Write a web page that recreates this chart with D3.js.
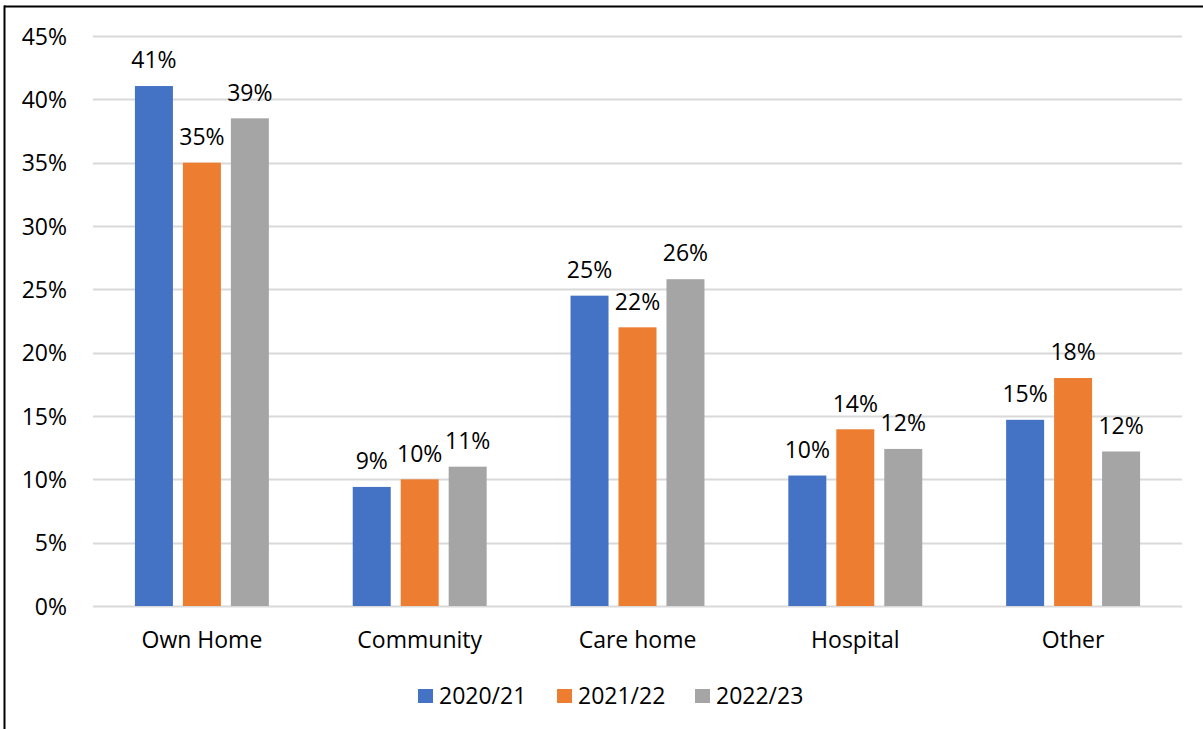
<!DOCTYPE html>
<html>
<head>
<meta charset="utf-8">
<script src="https://cdn.jsdelivr.net/npm/d3@7/dist/d3.min.js"></script>
<style>
  html, body { margin: 0; padding: 0; background: #fff; }
  svg { display: block; }
  text { font-family: "Open Sans", "Noto Sans", sans-serif; fill: #000; }
</style>
</head>
<body>
<svg id="chart" width="1203" height="729"></svg>
<script>
// Place of death, share of deaths by year
const categories = ["Own Home", "Community", "Care home", "Hospital", "Other"];
const seriesNames = ["2020/21", "2021/22", "2022/23"];
const values2020 = [41.05, 9.4, 24.5, 10.3, 14.7];
const values2021 = [35.0, 10.0, 22.0, 13.95, 18.0];
const values2022 = [38.5, 11.0, 25.8, 12.4, 12.2];
const colors = ["#4472C4", "#ED7D31", "#A5A5A5"];
const yTicks = [0, 5, 10, 15, 20, 25, 30, 35, 40, 45];

const seriesValues = [values2020, values2021, values2022];

const svg = d3.select("#chart");
const W = 1203, H = 729;
const plot = { left: 93, right: 1182, top: 36, bottom: 606 };
const FS = 23;

// chart frame (top and left edges visible)
svg.append("line").attr("x1", 4).attr("x2", W).attr("y1", 6.5).attr("y2", 6.5)
  .attr("stroke", "#000").attr("stroke-width", 2);
svg.append("line").attr("x1", 4.5).attr("x2", 4.5).attr("y1", 5.5).attr("y2", H)
  .attr("stroke", "#000").attr("stroke-width", 2);

const y = d3.scaleLinear().domain([0, 45]).range([plot.bottom, plot.top]);
const x0 = d3.scaleBand().domain(categories).range([plot.left, plot.right])
  .paddingInner(0.385).paddingOuter(0.1925);
const x1 = d3.scaleBand().domain(seriesNames).range([0, x0.bandwidth()])
  .paddingInner(0.208).paddingOuter(0);

// gridlines
svg.append("g").selectAll("line").data(yTicks).join("line")
  .attr("x1", plot.left).attr("x2", plot.right)
  .attr("y1", d => Math.round(y(d)) + 0.5).attr("y2", d => Math.round(y(d)) + 0.5)
  .attr("stroke", "#D9D9D9").attr("stroke-width", 2);

// y axis labels
const yAxis = d3.axisLeft(y).tickValues(yTicks).tickFormat(d => d + "%").tickSize(0).tickPadding(0);
const yg = svg.append("g").attr("transform", `translate(67,0)`).call(yAxis);
yg.select(".domain").remove();
yg.selectAll("text").attr("font-size", FS).attr("font-family", "'Open Sans', sans-serif")
  .attr("fill", "#000").attr("dy", "0.36em");

// x axis labels
const xAxis = d3.axisBottom(x0).tickSize(0).tickPadding(0);
const xg = svg.append("g").attr("transform", `translate(0,${plot.bottom + 34})`).call(xAxis);
xg.select(".domain").remove();
xg.selectAll("text").attr("font-size", FS).attr("font-family", "'Open Sans', sans-serif")
  .attr("fill", "#000").attr("dy", "0.36em");

// bars and value labels
const fmt = v => d3.format(".0f")(v) + "%";
seriesNames.forEach((s, si) => {
  const g = svg.append("g");
  const data = categories.map((c, ci) => ({ c, v: seriesValues[si][ci] }));
  g.selectAll("rect").data(data).join("rect")
    .attr("x", d => x0(d.c) + x1(s))
    .attr("y", d => y(d.v))
    .attr("width", x1.bandwidth())
    .attr("height", d => y(0) - y(d.v))
    .attr("fill", colors[si]);
  g.selectAll("text").data(data).join("text")
    .attr("x", d => x0(d.c) + x1(s) + x1.bandwidth() / 2)
    .attr("y", d => y(d.v) - 26)
    .attr("dy", "0.36em")
    .attr("text-anchor", "middle")
    .attr("font-size", FS)
    .text(d => fmt(d.v));
});

// legend
const legendX = [418, 557, 695];
const lg = svg.append("g");
seriesNames.forEach((s, i) => {
  lg.append("rect").attr("x", legendX[i]).attr("y", 689).attr("width", 15).attr("height", 14)
    .attr("fill", colors[i]);
  lg.append("text").attr("x", legendX[i] + 21).attr("y", 696).attr("dy", "0.36em")
    .attr("font-size", FS).text(s);
});
</script>
</body>
</html>
